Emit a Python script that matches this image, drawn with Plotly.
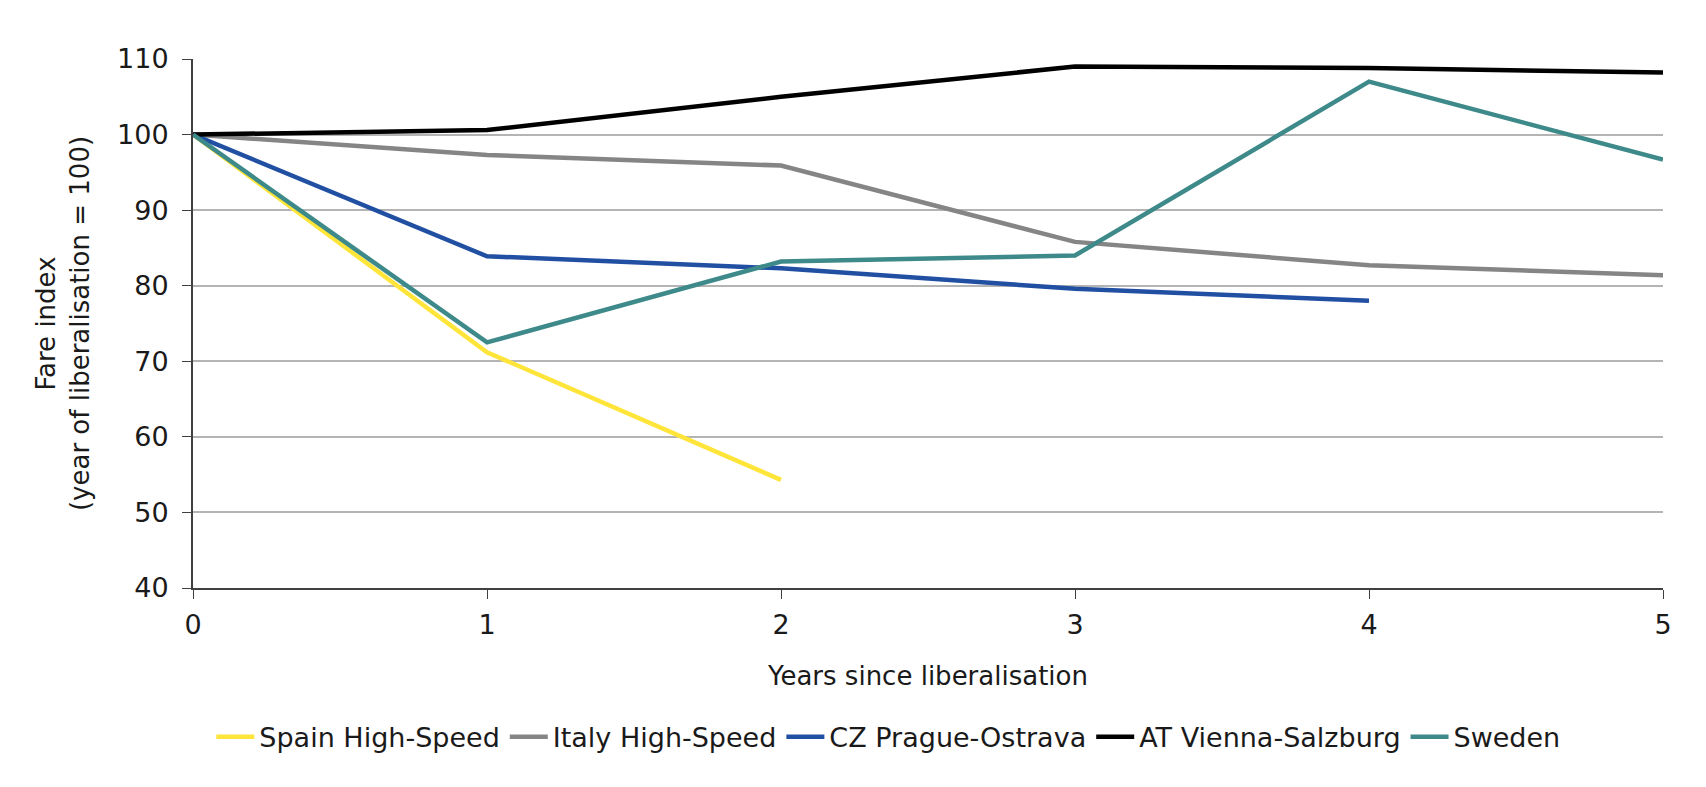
import plotly.graph_objects as go

years = [0, 1, 2, 3, 4, 5]
spain = [100, 71.2, 54.3]
italy = [100, 97.3, 95.9, 85.8, 82.7, 81.4]
cz = [100, 83.9, 82.3, 79.6, 78.0]
at = [100, 100.6, 105.0, 109.0, 108.8, 108.2]
sweden = [100, 72.5, 83.2, 84.0, 107.0, 96.7]

series = [
    ("Spain High-Speed", spain, "#FFE53A"),
    ("Italy High-Speed", italy, "#858585"),
    ("CZ Prague-Ostrava", cz, "#2150A3"),
    ("AT Vienna-Salzburg", at, "#000000"),
    ("Sweden", sweden, "#3E8A8A"),
]

fig = go.Figure()
for name, vals, col in series:
    fig.add_trace(go.Scatter(
        x=years[:len(vals)], y=vals, name=name, mode="lines",
        line=dict(color=col, width=4.5),
    ))

font = "DejaVu Sans, Verdana, sans-serif"
fig.update_layout(
    width=1706, height=787,
    margin=dict(l=185, r=51, t=51, b=207),
    paper_bgcolor="white", plot_bgcolor="white",
    font=dict(family=font, size=26, color="#1a1a1a"),
    showlegend=True,
    legend=dict(orientation="h", x=0.473, xanchor="center", y=-0.282, yanchor="middle",
                font=dict(size=27), itemwidth=38, tracegroupgap=0),
)
fig.update_xaxes(
    range=[0, 5], tickvals=years, ticks="outside", ticklen=9, tickcolor="#404040",
    showline=True, linecolor="#404040", linewidth=2, showgrid=False, zeroline=False,
    ticklabelstandoff=3, tickfont=dict(size=27),
    title=dict(text="Years since liberalisation", font=dict(size=26), standoff=27),
)
fig.update_yaxes(
    range=[40, 110], dtick=10, ticks="outside", ticklen=9, tickcolor="#404040",
    showline=True, linecolor="#404040", linewidth=2, showgrid=True, gridcolor="#B4B4B4",
    gridwidth=2, zeroline=False, ticklabelstandoff=8, tickfont=dict(size=27),
    title=dict(text="Fare index<br>(year of liberalisation = 100)", font=dict(size=26), standoff=20),
)
fig.write_html("out.html")
